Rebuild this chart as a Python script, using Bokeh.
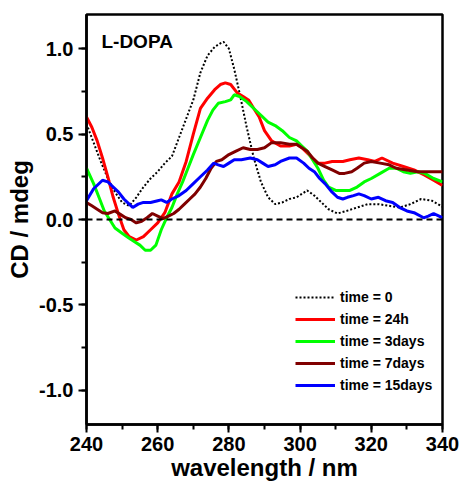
from bokeh.plotting import figure
from bokeh.models import Range1d, SingleIntervalTicker, PrintfTickFormatter, Legend, LegendItem, Span, Label
from bokeh.embed import file_html
from bokeh.resources import INLINE

# ---- data ----
wl_t0 = [240, 242, 244, 246, 248, 250, 252, 254, 256, 258, 260, 262, 264, 266, 268, 270, 272, 274, 276,
         277.5, 278.5, 280, 281.5, 283, 285, 287, 289, 291, 293, 295, 297, 299, 302, 304, 306, 308, 310.5,
         313, 316, 319, 322, 325, 328, 331, 334, 337, 340]
cd_t0 = [0.56, 0.45, 0.34, 0.24, 0.16, 0.10, 0.08, 0.13, 0.19, 0.24, 0.28, 0.33, 0.37, 0.48, 0.59, 0.70,
         0.86, 0.96, 1.01, 1.03, 1.04, 1.00, 0.88, 0.74, 0.54, 0.36, 0.22, 0.13, 0.09, 0.10, 0.12, 0.13,
         0.17, 0.14, 0.10, 0.06, 0.035, 0.05, 0.07, 0.09, 0.09, 0.08, 0.07, 0.09, 0.12, 0.11, 0.075]

wl_24h = [240, 241.5, 243, 244.5, 246, 247.5, 249, 250.5, 252, 254, 256, 258, 260, 262, 264, 266, 268, 270,
          272, 274, 276, 277.6, 279, 280.5, 282.4, 284, 285.5, 287, 288.5, 290, 292, 294.5, 297, 299, 300.5,
          302.5, 305, 307, 309, 312, 314, 316.5, 319, 321, 323, 326, 329, 332, 335, 337.5, 340]
cd_24h = [0.60, 0.54, 0.46, 0.36, 0.25, 0.13, 0.03, -0.06, -0.10, -0.12, -0.10, -0.06, -0.02, 0.04, 0.15,
          0.22, 0.34, 0.50, 0.65, 0.71, 0.76, 0.79, 0.80, 0.79, 0.74, 0.72, 0.70, 0.65, 0.60, 0.52, 0.46,
          0.43, 0.43, 0.44, 0.42, 0.38, 0.33, 0.33, 0.34, 0.34, 0.35, 0.36, 0.35, 0.34, 0.36, 0.33, 0.31,
          0.29, 0.26, 0.23, 0.20]

wl_3d = [240, 242, 243.5, 245, 246.5, 248, 250, 252, 253.5, 255, 256.5, 258, 259.5, 261, 262.5, 264, 265.5,
         267, 268.5, 270, 272, 274, 275.5, 277, 279, 280.5, 281.5, 283, 285, 287, 289, 291, 293, 295, 297,
         299, 300.5, 302, 303.5, 305, 306.6, 308, 310, 312, 314, 316, 318, 320, 322.5, 325, 327, 329, 331,
         333, 335, 337.5, 340]
cd_3d = [0.30, 0.21, 0.13, 0.05, 0.00, -0.05, -0.08, -0.11, -0.13, -0.15, -0.18, -0.18, -0.15, -0.06, 0.01,
         0.07, 0.15, 0.22, 0.30, 0.38, 0.48, 0.58, 0.64, 0.68, 0.69, 0.70, 0.73, 0.72, 0.69, 0.65, 0.61,
         0.57, 0.55, 0.52, 0.48, 0.46, 0.43, 0.40, 0.35, 0.30, 0.23, 0.19, 0.17, 0.17, 0.17, 0.19, 0.22,
         0.24, 0.27, 0.30, 0.30, 0.28, 0.27, 0.28, 0.27, 0.24, 0.22]

wl_7d = [240, 241.5, 243, 244.5, 246, 248, 249.5, 251, 252.5, 254, 255.5, 257, 258.5, 260, 261.5, 263, 264.5,
         266, 267.5, 269, 270.5, 272, 273.5, 275, 276.5, 278, 280, 282, 284, 286, 288, 290, 292, 294.5, 297,
         299, 300.5, 302, 303.5, 305, 307, 309, 311, 312.5, 314.5, 316, 318, 320, 322.5, 325, 327, 330,
         333, 336, 340]
cd_7d = [0.10, 0.08, 0.06, 0.04, 0.035, 0.05, 0.03, 0.01, 0.00, -0.02, -0.01, 0.01, 0.035, 0.02, 0.005,
         0.02, 0.035, 0.06, 0.09, 0.12, 0.15, 0.19, 0.24, 0.30, 0.34, 0.35, 0.38, 0.40, 0.42, 0.41, 0.41,
         0.42, 0.45, 0.45, 0.44, 0.44, 0.42, 0.40, 0.36, 0.33, 0.31, 0.29, 0.27, 0.27, 0.28, 0.30, 0.33,
         0.34, 0.33, 0.32, 0.30, 0.29, 0.28, 0.28, 0.28]

wl_15d = [240, 242, 244.5, 246, 247.5, 249, 250.5, 252, 253, 254.5, 256, 258, 260, 261, 262.5, 264, 266, 268,
          270, 272, 274, 275.7, 277, 278.5, 280, 281.5, 283.5, 286, 288, 289.5, 291, 293, 294.5, 297, 299,
          301, 302.5, 304, 305.5, 307, 309, 310.5, 312, 313.3, 315, 316.5, 318, 320, 322, 324, 326, 328,
          330, 332, 334.7, 336, 337.5, 340]
cd_15d = [0.11, 0.18, 0.23, 0.22, 0.19, 0.16, 0.12, 0.09, 0.07, 0.09, 0.10, 0.10, 0.11, 0.115, 0.10, 0.12,
          0.14, 0.17, 0.21, 0.25, 0.29, 0.33, 0.32, 0.31, 0.33, 0.35, 0.35, 0.36, 0.35, 0.33, 0.31, 0.32,
          0.34, 0.36, 0.36, 0.33, 0.30, 0.28, 0.24, 0.21, 0.16, 0.13, 0.12, 0.13, 0.14, 0.15, 0.14, 0.12,
          0.13, 0.11, 0.10, 0.07, 0.05, 0.04, 0.01, 0.02, 0.035, 0.01]

labels = ["time = 0", "time = 24h", "time = 3days", "time = 7days", "time = 15days"]
colors = ["black", "#FF0000", "#00FF00", "#800000", "#0000FF"]
x_ticks_interval = 20
y_ticks_interval = 0.5
x_title = "wavelength / nm"
y_title = "CD / mdeg"
panel_title = "L-DOPA"

FONT = "Liberation Sans"

p = figure(width=462, height=486, output_backend="svg", toolbar_location=None,
           x_range=Range1d(240, 340), y_range=Range1d(-1.2, 1.2),
           min_border_left=86, min_border_right=20, min_border_top=14, min_border_bottom=62,
           x_axis_label=x_title, y_axis_label=y_title)
p.xgrid.visible = False
p.ygrid.visible = False
p.outline_line_color = "black"
p.outline_line_width = 2.5
p.background_fill_color = "white"
p.border_fill_color = "white"

p.xaxis.ticker = SingleIntervalTicker(interval=x_ticks_interval, num_minor_ticks=2)
p.yaxis.ticker = SingleIntervalTicker(interval=y_ticks_interval, num_minor_ticks=2)
p.yaxis.formatter = PrintfTickFormatter(format="%.1f")

for ax in (p.xaxis, p.yaxis):
    ax.axis_line_width = 2.5
    ax.axis_line_color = "black"
    ax.major_tick_out = 8
    ax.major_tick_in = 0
    ax.minor_tick_out = 5
    ax.minor_tick_in = 0
    ax.major_tick_line_width = 2
    ax.minor_tick_line_width = 2
    ax.major_label_text_font = FONT
    ax.major_label_text_font_size = "20px"
    ax.major_label_text_font_style = "bold"
    ax.major_label_text_color = "black"
    ax.axis_label_text_font = FONT
    ax.axis_label_text_font_style = "bold"
    ax.axis_label_text_color = "black"
p.xaxis.major_label_standoff = 4
p.yaxis.major_label_standoff = 5
p.xaxis.axis_label_text_font_size = "24px"
p.xaxis.axis_label_standoff = 0
p.yaxis.axis_label_text_font_size = "24px"
p.yaxis.axis_label_standoff = 3

p.add_layout(Span(location=0, dimension="width", line_color="black", line_width=2, line_dash="6 4"))

series = [(wl_t0, cd_t0), (wl_24h, cd_24h), (wl_3d, cd_3d), (wl_7d, cd_7d), (wl_15d, cd_15d)]
items = []
for i, ((xs, ys), lab, col) in enumerate(zip(series, labels, colors)):
    if i == 0:
        r = p.line(xs, ys, line_color=col, line_width=2, line_dash="2 2")
    else:
        r = p.line(xs, ys, line_color=col, line_width=3)
    items.append(LegendItem(label=lab, renderers=[r]))

legend = Legend(items=items, location=(209, 29), glyph_width=40, glyph_height=20, label_height=20,
                spacing=2, padding=0, margin=0, label_standoff=5, border_line_color=None,
                background_fill_alpha=0, label_text_font=FONT, label_text_font_size="14px",
                label_text_font_style="bold", label_text_color="black")
p.add_layout(legend, "center")

p.add_layout(Label(x=244.2, y=1.105, text=panel_title, text_font=FONT, text_font_size="19px",
                   text_font_style="bold", text_baseline="top", text_color="black"))

open("out.html", "w").write(file_html(p, INLINE))
